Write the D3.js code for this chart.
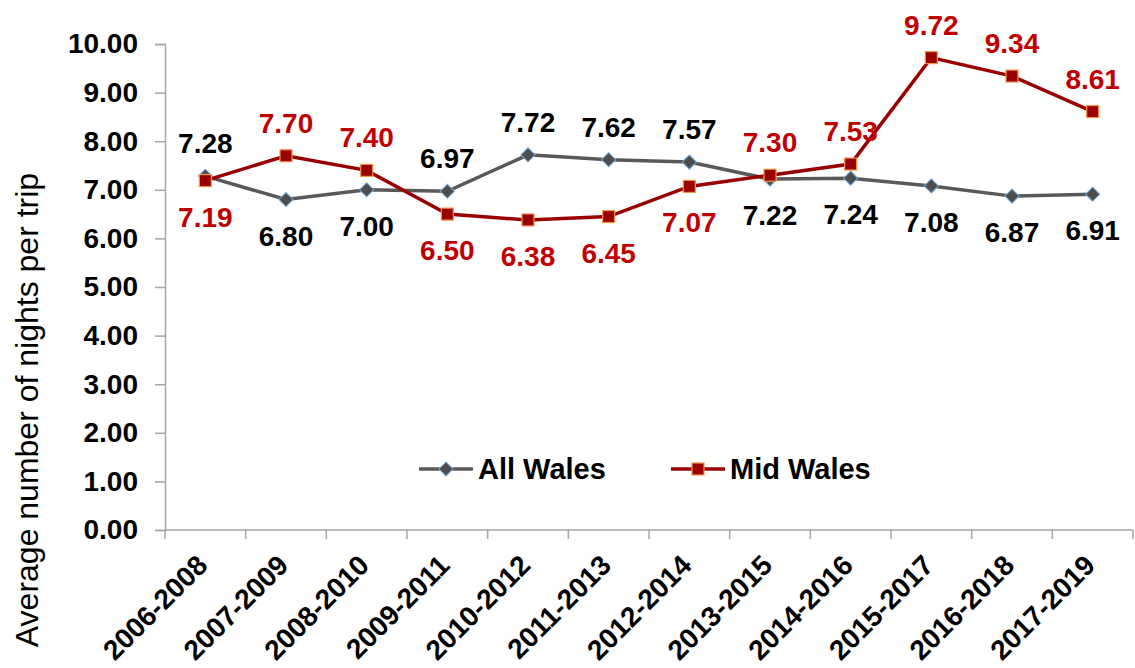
<!DOCTYPE html>
<html>
<head>
<meta charset="utf-8">
<script src="https://cdn.jsdelivr.net/npm/d3@7"></script>
<style>
  html, body { margin: 0; padding: 0; background: #fff; }
  svg { display: block; font-family: "Liberation Sans", Arial, sans-serif; }
</style>
</head>
<body>
<svg id="chart" width="1135" height="668"></svg>
<script>
// Three-year rolling periods
const periods = ["2006-2008","2007-2009","2008-2010","2009-2011","2010-2012","2011-2013",
                 "2012-2014","2013-2015","2014-2016","2015-2017","2016-2018","2017-2019"];

// Average nights per trip
const allWales = [7.28, 6.80, 7.00, 6.97, 7.72, 7.62, 7.57, 7.22, 7.24, 7.08, 6.87, 6.91];
const midWales = [7.19, 7.70, 7.40, 6.50, 6.38, 6.45, 7.07, 7.30, 7.53, 9.72, 9.34, 8.61];

// Which side of the point each value label sits on
const allWalesLabelPos = ["above","below","below","above","above","above","above","below","below","below","below","below"];
const midWalesLabelPos = ["below","above","above","below","below","below","below","above","above","above","above","above"];

const yTicks = [0,1,2,3,4,5,6,7,8,9,10];

const svg = d3.select("#chart");
const plotLeft = 165, plotRight = 1133, plotTop = 44, plotBottom = 530;

const x = d3.scalePoint().domain(periods).range([plotLeft, plotRight]).padding(0.5);
const xBand = d3.scaleBand().domain(periods).range([plotLeft, plotRight]);
const y = d3.scaleLinear().domain([0, 10]).range([plotBottom, plotTop]);

const axisColor = "#a6a6a6";

// Y axis
const yAxis = svg.append("g").attr("transform", `translate(${plotLeft},0)`)
  .call(d3.axisLeft(y).tickValues(yTicks).tickFormat(d3.format(".2f")).tickSize(10).tickPadding(17));
yAxis.select(".domain").attr("stroke", axisColor).attr("stroke-width", 1.5);
yAxis.selectAll(".tick line").attr("stroke", axisColor).attr("stroke-width", 1.5);
yAxis.selectAll(".tick text")
  .attr("font-size", 28).attr("font-weight", "bold").attr("fill", "#000")
  .attr("font-family", "Liberation Sans, Arial, sans-serif");

// X axis with ticks on band boundaries
const xAxisG = svg.append("g").attr("transform", `translate(0,${plotBottom})`);
xAxisG.append("line").attr("x1", plotLeft).attr("x2", plotRight).attr("y1", 0).attr("y2", 0)
  .attr("stroke", axisColor).attr("stroke-width", 1.5);
const bounds = periods.map(p => xBand(p)).concat([plotRight]);
xAxisG.selectAll("line.tick").data(bounds).join("line").attr("class", "tick")
  .attr("x1", d => d).attr("x2", d => d).attr("y1", 0).attr("y2", 9)
  .attr("stroke", axisColor).attr("stroke-width", 1.5);
xAxisG.selectAll("text.lbl").data(periods).join("text").attr("class", "lbl")
  .attr("transform", d => `translate(${x(d) + 4},37) rotate(-45)`)
  .attr("text-anchor", "end")
  .attr("font-size", 28).attr("font-weight", "bold").attr("fill", "#000")
  .text(d => d);

// Y axis title
svg.append("text")
  .attr("transform", `translate(38,410) rotate(-90)`)
  .attr("text-anchor", "middle")
  .attr("font-size", 32).attr("fill", "#000")
  .text("Average number of nights per trip");

const line = d3.line().x((d, i) => x(periods[i])).y(d => y(d));

// All Wales series
svg.append("path").datum(allWales).attr("d", line)
  .attr("fill", "none").attr("stroke", "#595959").attr("stroke-width", 3.5);
// Mid Wales series
svg.append("path").datum(midWales).attr("d", line)
  .attr("fill", "none").attr("stroke", "#990000").attr("stroke-width", 3.5);

// Markers
svg.append("g").selectAll("rect").data(allWales).join("rect")
  .attr("x", -5).attr("y", -5).attr("width", 10).attr("height", 10)
  .attr("transform", (d, i) => `translate(${x(periods[i])},${y(d)}) rotate(45)`)
  .attr("fill", "#4d4d4d").attr("stroke", "#6fa8dc").attr("stroke-width", 1);
svg.append("g").selectAll("rect").data(midWales).join("rect")
  .attr("x", (d, i) => x(periods[i]) - 6).attr("y", d => y(d) - 6)
  .attr("width", 12).attr("height", 12)
  .attr("fill", "#990000").attr("stroke", "#f79646").attr("stroke-width", 1.2);

// Value labels
function addLabels(values, pos, color) {
  svg.append("g").selectAll("text").data(values).join("text")
    .attr("x", (d, i) => x(periods[i]))
    .attr("y", (d, i) => pos[i] === "above" ? y(d) - 23 : y(d) + 46)
    .attr("text-anchor", "middle")
    .attr("font-size", 28).attr("font-weight", "bold").attr("fill", color)
    .text(d => d.toFixed(2));
}
addLabels(allWales, allWalesLabelPos, "#000");
addLabels(midWales, midWalesLabelPos, "#c00000");

// Legend
const legend = svg.append("g");
const legendItems = [
  { name: "All Wales", x0: 419, color: "#595959", type: "diamond" },
  { name: "Mid Wales", x0: 671, color: "#990000", type: "square" }
];
const ly = 469;
legendItems.forEach(it => {
  legend.append("line").attr("x1", it.x0).attr("x2", it.x0 + 54).attr("y1", ly).attr("y2", ly)
    .attr("stroke", it.color).attr("stroke-width", 3.5);
  if (it.type === "diamond") {
    legend.append("rect").attr("x", -5).attr("y", -5).attr("width", 10).attr("height", 10)
      .attr("transform", `translate(${it.x0 + 27},${ly}) rotate(45)`)
      .attr("fill", "#4d4d4d").attr("stroke", "#6fa8dc").attr("stroke-width", 1);
  } else {
    legend.append("rect").attr("x", it.x0 + 27 - 6).attr("y", ly - 6).attr("width", 12).attr("height", 12)
      .attr("fill", "#990000").attr("stroke", "#f79646").attr("stroke-width", 1.2);
  }
  legend.append("text").attr("x", it.x0 + 59).attr("y", ly + 10)
    .attr("font-size", 29).attr("font-weight", "bold").attr("fill", "#000")
    .text(it.name);
});
</script>
</body>
</html>
